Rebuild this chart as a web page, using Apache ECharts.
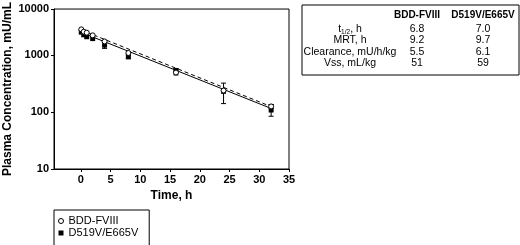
<!DOCTYPE html>
<html>
<head>
<meta charset="utf-8">
<script src="https://cdn.jsdelivr.net/npm/echarts@6/dist/echarts.min.js"></script>
<style>
html,body{margin:0;padding:0;background:#fff;}
#c{width:520px;height:245px;}
</style>
</head>
<body>
<div id="c"></div>
<script>
// ---- data ----
var times = [0.083, 0.5, 1, 2, 4, 8, 16, 24, 32];
var bddValues = [2800, 2550, 2450, 2200, 1720, 1080, 490, 237, 125];
var d519Values = [2500, 2250, 2080, 1930, 1480, 925, 530, 230, 108];
var bddErr = [[16, 445, 520], [24, 140, 320], [32, 115, 135]];
var d519Err = [[4, 1300, 1650], [8, 860, 990], [16, 480, 575], [32, 84, 135]];
var bddFit = [[0, 2750], [32, 124]];
var d519Fit = [[0, 2500], [32, 115]];
var xTicks = [0, 5, 10, 15, 20, 25, 30, 35];
var seriesNames = ['BDD-FVIII', 'D519V/E665V'];
var tableHeader = ['BDD-FVIII', 'D519V/E665V'];
var tableRows = ['{n|t}{s|1/2}{n|, h}', 'MRT, h', 'Clearance, mU/h/kg', 'Vss, mL/kg'];
var tableBDD = ['6.8', '9.2', '5.5', '51'];
var tableD519 = ['7.0', '9.7', '6.1', '59'];

var FONT = '"Liberation Sans", Arial, sans-serif';

function pairs(xs, ys) { return xs.map(function (x, i) { return [x, ys[i]]; }); }

function errSeries(data) {
  return {
    type: 'custom',
    data: data,
    silent: true,
    z: 3,
    renderItem: function (params, api) {
      var x = api.value(0);
      var lo = api.coord([x, api.value(1)]);
      var hi = api.coord([x, api.value(2)]);
      var w = 2.5;
      var st = { stroke: '#000', lineWidth: 1 };
      return {
        type: 'group',
        children: [
          { type: 'line', shape: { x1: lo[0], y1: lo[1], x2: hi[0], y2: hi[1] }, style: st },
          { type: 'line', shape: { x1: lo[0] - w, y1: lo[1], x2: lo[0] + w, y2: lo[1] }, style: st },
          { type: 'line', shape: { x1: hi[0] - w, y1: hi[1], x2: hi[0] + w, y2: hi[1] }, style: st }
        ]
      };
    }
  };
}

// table graphic
var tX = 302, tY = 5, tW = 217, tH = 70;
var colLabel = 350, colA = 417, colB = 483;
var rowY = [29, 40, 52, 63];
var BODY = '10.5px ' + FONT, HEAD = 'bold 10px ' + FONT;
var graphics = [{
  type: 'rect', shape: { x: tX, y: tY, width: tW, height: tH },
  style: { fill: 'none', stroke: '#000', lineWidth: 1 }
}];
graphics.push({ type: 'text', x: colA, y: 15, style: { text: tableHeader[0], font: HEAD, fill: '#000', align: 'center', verticalAlign: 'middle' } });
graphics.push({ type: 'text', x: colB, y: 15, style: { text: tableHeader[1], font: HEAD, fill: '#000', align: 'center', verticalAlign: 'middle' } });
tableRows.forEach(function (r, i) {
  graphics.push({ type: 'text', x: colLabel, y: rowY[i], style: {
    text: r, align: 'center', verticalAlign: 'middle', fill: '#000',
    font: BODY,
    rich: { n: { fontSize: 10.5, fontFamily: FONT, fill: '#000' }, s: { fontSize: 6.5, fontFamily: FONT, fill: '#000', verticalAlign: 'bottom', padding: [6, 0, 0, 0] } }
  } });
  graphics.push({ type: 'text', x: colA, y: rowY[i], style: { text: tableBDD[i], font: BODY, fill: '#000', align: 'center', verticalAlign: 'middle' } });
  graphics.push({ type: 'text', x: colB, y: rowY[i], style: { text: tableD519[i], font: BODY, fill: '#000', align: 'center', verticalAlign: 'middle' } });
});

var chart = echarts.init(document.getElementById('c'), null, { renderer: 'canvas' });
chart.setOption({
  animation: false,
  backgroundColor: '#fff',
  textStyle: { fontFamily: FONT },
  grid: { left: 54, top: 5, right: 231, bottom: 76, show: true, borderColor: '#000', borderWidth: 1 },
  legend: {
    data: [
      { name: seriesNames[0], icon: 'circle', itemStyle: { color: '#fff', borderColor: '#000', borderWidth: 1 } },
      { name: seriesNames[1], icon: 'rect', itemStyle: { color: '#000' } }
    ],
    orient: 'vertical', left: 54, top: 210, height: 60,
    borderColor: '#000', borderWidth: 1, padding: [5, 11, 12, 4],
    itemWidth: 5, itemHeight: 5, itemGap: 0,
    textStyle: { fontSize: 11, color: '#000', fontFamily: FONT, lineHeight: 12, padding: [0, 0, 0, 0] }
  },
  xAxis: {
    type: 'value', min: -4.5, max: 35,
    name: 'Time, h', nameLocation: 'middle', nameGap: 21,
    nameTextStyle: { fontWeight: 'bold', fontSize: 12, color: '#000', fontFamily: FONT },
    axisLine: { onZero: false, lineStyle: { color: '#000', width: 1 } },
    axisTick: { customValues: xTicks, length: 3, lineStyle: { color: '#000' } },
    axisLabel: { customValues: xTicks, color: '#000', fontSize: 11, fontWeight: 'bold', margin: 5, fontFamily: FONT },
    splitLine: { show: false }
  },
  yAxis: {
    type: 'log', logBase: 10, min: 10, max: 6360,
    name: 'Plasma Concentration, mU/mL', nameLocation: 'middle', nameGap: 40, nameRotate: 90,
    nameTextStyle: { fontWeight: 'bold', fontSize: 12, color: '#000', fontFamily: FONT },
    axisLine: { show: true, onZero: false, lineStyle: { color: '#000', width: 1 } },
    axisTick: { show: true, length: 3, lineStyle: { color: '#000' } },
    minorTick: { show: false },
    axisLabel: {
      color: '#000', fontSize: 11, fontWeight: 'bold', margin: 5, fontFamily: FONT,
      showMaxLabel: true, showMinLabel: true,
      formatter: function (v) { return v > 5000 ? '10000' : String(Math.round(v)); }
    },
    splitLine: { show: false }
  },
  graphic: graphics,
  series: [
    { type: 'line', data: bddFit, symbol: 'none', silent: true, z: 2,
      lineStyle: { color: '#000', width: 1, type: [4, 3] } },
    { type: 'line', data: d519Fit, symbol: 'none', silent: true, z: 2,
      lineStyle: { color: '#000', width: 1, type: 'solid' } },
    errSeries(bddErr),
    errSeries(d519Err),
    { name: seriesNames[1], type: 'scatter', data: pairs(times, d519Values), symbol: 'rect', symbolSize: 5, z: 4,
      itemStyle: { color: '#000', opacity: 1 } },
    { name: seriesNames[0], type: 'scatter', data: pairs(times, bddValues), symbol: 'circle', symbolSize: 5, z: 5,
      itemStyle: { color: '#fff', borderColor: '#000', borderWidth: 1, opacity: 1 } }
  ]
});
</script>
</body>
</html>
